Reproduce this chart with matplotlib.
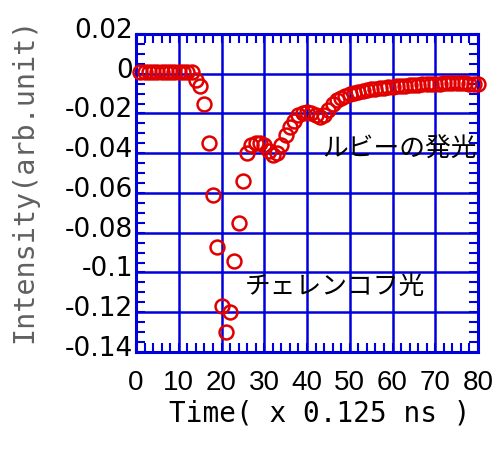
import matplotlib
matplotlib.use("Agg")
import matplotlib.pyplot as plt
from matplotlib.ticker import MultipleLocator
from matplotlib.transforms import ScaledTranslation

# sample index (x 0.125 ns) and measured intensity
time = list(range(1, 81))
intensity = [
    0.001, 0.001, 0.001, 0.001, 0.001, 0.001, 0.001, 0.001, 0.001, 0.001,
    0.001, 0.001, 0.001, -0.003, -0.006, -0.015, -0.035, -0.061, -0.087, -0.117,
    -0.130, -0.120, -0.094, -0.075, -0.054, -0.040, -0.036, -0.035, -0.035, -0.036,
    -0.039, -0.041, -0.040, -0.036, -0.031, -0.027, -0.024, -0.021, -0.020, -0.019,
    -0.020, -0.021, -0.022, -0.021, -0.018, -0.015, -0.013, -0.012, -0.011, -0.010,
    -0.0095, -0.009, -0.0085, -0.008, -0.0078, -0.0075, -0.0072, -0.007, -0.0068, -0.0066,
    -0.0064, -0.0062, -0.006, -0.0058, -0.0056, -0.0055, -0.0054, -0.0052, -0.0051, -0.005,
    -0.005, -0.0049, -0.0049, -0.0048, -0.0048, -0.0048, -0.0049, -0.005, -0.005, -0.005,
]

xticks = [0, 10, 20, 30, 40, 50, 60, 70, 80]
yticks = [0.02, 0, -0.02, -0.04, -0.06, -0.08, -0.1, -0.12, -0.14]
ytick_labels = ["0.02", "0", "-0.02", "-0.04", "-0.06", "-0.08", "-0.1", "-0.12", "-0.14"]

notes = ["ルビーの発光", "チェレンコフ光"]
note_pos = [(43.5, -0.0384), (25.5, -0.1073)]

BLUE = "#0000dd"
RED = "#e00000"

fig = plt.figure(figsize=(4.93, 4.54), dpi=100)
ax = fig.add_axes([0.2759, 0.2247, 0.6937, 0.7004])

ax.plot(time, intensity, linestyle="none", marker="o", markersize=10,
        markerfacecolor="none", markeredgecolor=RED, markeredgewidth=1.8,
        clip_on=False, zorder=3)

ax.set_xlim(0, 80)
ax.set_ylim(-0.14, 0.02)
ax.set_xticks(xticks)
ax.set_xticklabels([str(v) for v in xticks])
ax.set_yticks(yticks)
ax.set_yticklabels(ytick_labels)
ax.xaxis.set_minor_locator(MultipleLocator(2))
ax.yaxis.set_minor_locator(MultipleLocator(0.005))

ax.grid(True, which="major", color=BLUE, linewidth=1.8)
ax.set_axisbelow(True)
for sp in ax.spines.values():
    sp.set_color(BLUE)
    sp.set_linewidth(2.2)

ax.tick_params(which="both", direction="in", top=True, right=True, color=BLUE)
ax.tick_params(which="major", length=6.5, width=1.5)
ax.tick_params(which="minor", length=6.5, width=1.5)
ax.tick_params(axis="x", pad=13)
ax.tick_params(axis="y", pad=2)

for lab in ax.get_xticklabels():
    lab.set_fontfamily(["Liberation Sans Narrow", "Liberation Sans"])
    lab.set_fontsize(20)
for lab in ax.get_yticklabels():
    lab.set_fontfamily("DejaVu Sans")
    lab.set_fontsize(19)
    lab.set_transform(lab.get_transform() + ScaledTranslation(0, 0.06, fig.dpi_scale_trans))

mono = ["DejaVu Sans Mono"]
ax.set_xlabel("Time( x 0.125 ns )", family=mono, fontsize=20, color="black")
ax.xaxis.set_label_coords(0.538, -0.148)
ax.set_ylabel("Intensity(arb.unit)", family=mono, fontsize=20.5, color="#606060")
ax.yaxis.set_label_coords(-0.285, 0.541)

for txt, (x, y) in zip(notes, note_pos):
    ax.text(x, y, txt, family=["Noto Sans CJK JP", "DejaVu Sans"], fontsize=18.5,
            ha="left", va="center", color="black", zorder=4)

fig.savefig("out.png", dpi=100)
